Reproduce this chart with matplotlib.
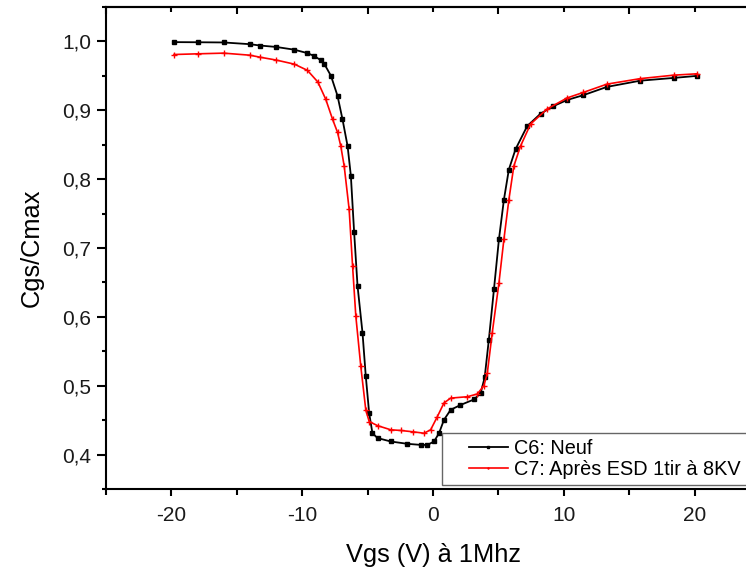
import matplotlib
matplotlib.use("Agg")
import matplotlib.pyplot as plt
from matplotlib.ticker import MultipleLocator, FuncFormatter
from matplotlib.legend_handler import HandlerLine2D

plt.rcParams['font.family'] = ['Liberation Sans', 'DejaVu Sans']
plt.rcParams['axes.unicode_minus'] = False

# C6: Neuf  (Vgs, Cgs/Cmax)
c6_v = [-19.8, -18, -16, -14, -13.2, -12, -10.6, -9.6, -9.1, -8.6, -8.3, -7.8, -7.3,
        -6.92, -6.53, -6.28, -6.03, -5.77, -5.39, -5.14, -4.88, -4.63, -4.24, -3.23,
        -1.95, -0.9, -0.43, 0.08, 0.46, 0.84, 1.35, 2.1, 3.13, 3.64, 3.95, 4.27, 4.66,
        5.04, 5.42, 5.8, 6.31, 7.2, 8.22, 9.2, 10.26, 11.5, 13.3, 15.85, 18.4, 20.2]
c6_c = [0.999, 0.9988, 0.9985, 0.996, 0.994, 0.992, 0.988, 0.983, 0.979, 0.973, 0.967,
        0.950, 0.921, 0.887, 0.848, 0.805, 0.723, 0.645, 0.577, 0.514, 0.460, 0.431,
        0.424, 0.419, 0.4156, 0.414, 0.414, 0.419, 0.431, 0.4505, 0.465, 0.472, 0.480,
        0.489, 0.512, 0.567, 0.640, 0.7125, 0.770, 0.814, 0.8435, 0.877, 0.895, 0.906,
        0.915, 0.922, 0.934, 0.943, 0.947, 0.950]

# C7: Apres ESD 1tir a 8KV
c7_v = [-19.8, -18, -16, -14, -13.2, -12, -10.6, -9.6, -8.8, -8.2, -7.68, -7.3, -7.05,
        -6.79, -6.41, -6.15, -5.9, -5.52, -5.14, -4.88, -4.24, -3.23, -2.47, -1.5,
        -0.69, -0.18, 0.33, 0.84, 1.35, 2.62, 3.39, 3.89, 4.15, 4.53, 5.04, 5.42, 5.8,
        6.18, 6.69, 7.46, 8.73, 10.26, 11.5, 13.3, 15.85, 18.4, 20.2]
c7_c = [0.981, 0.982, 0.983, 0.980, 0.977, 0.973, 0.967, 0.958, 0.941, 0.916, 0.887,
        0.868, 0.848, 0.819, 0.756, 0.674, 0.601, 0.528, 0.465, 0.448, 0.442, 0.436,
        0.435, 0.433, 0.431, 0.436, 0.455, 0.475, 0.482, 0.484, 0.488, 0.500, 0.518,
        0.577, 0.649, 0.7125, 0.770, 0.819, 0.848, 0.880, 0.902, 0.918, 0.926, 0.938,
        0.946, 0.951, 0.953]


class ShiftedLine(HandlerLine2D):
    # draw the legend line a bit further right inside its box
    def adjust_drawing_area(self, legend, orig_handle, xdescent, ydescent, width, height, fontsize):
        xdescent, ydescent, width, height = super().adjust_drawing_area(
            legend, orig_handle, xdescent, ydescent, width, height, fontsize)
        shift = 15
        return xdescent - shift, ydescent, width - shift, height


W, H = 746, 571
fig = plt.figure(figsize=(W / 100, H / 100), dpi=100)
# axes runs past the right edge of the picture, like the original
ax = fig.add_axes([106 / W, 1 - 489 / H, (760 - 106) / W, (489 - 7) / H])
ax_w, ax_h = 760 - 106, 489 - 7

ax.plot(c6_v, c6_c, color='black', lw=1.3, marker='s', ms=2.8, label='C6: Neuf')
ax.plot(c7_v, c7_c, color='#ff0000', lw=1.2, marker='+', ms=4, mew=1,
        label='C7: Après ESD 1tir à 8KV')

ax.set_xlim(-25, 25)
ax.set_ylim(0.35, 1.05)
ax.xaxis.set_major_locator(MultipleLocator(10))
ax.xaxis.set_minor_locator(MultipleLocator(5))
ax.yaxis.set_major_locator(MultipleLocator(0.1))
ax.yaxis.set_minor_locator(MultipleLocator(0.05))
ax.yaxis.set_major_formatter(FuncFormatter(lambda v, p: f"{v:.1f}".replace('.', ',')))

for s in ax.spines.values():
    s.set_linewidth(1.5)
ax.spines['right'].set_visible(False)

ax.tick_params(axis='both', which='both', direction='out', width=1.5,
               labelsize=15, labelcolor='#1a1a1a')
ax.tick_params(axis='y', which='major', length=6.5, pad=4)
ax.tick_params(axis='y', which='minor', length=3)
ax.tick_params(axis='x', which='major', length=5, pad=7)
ax.tick_params(axis='x', which='minor', length=4.3)

# top axis: ticks pointing inwards, no labels
top = ax.secondary_xaxis('top')
top.xaxis.set_major_locator(MultipleLocator(10))
top.xaxis.set_minor_locator(MultipleLocator(5))
top.tick_params(axis='x', which='both', direction='in', width=1.5, labeltop=False)
top.tick_params(axis='x', which='major', length=3.5)
top.tick_params(axis='x', which='minor', length=5)
top.spines['top'].set_linewidth(1.5)

ax.set_xlabel('Vgs (V) à 1Mhz', fontsize=18.3)
ax.set_ylabel('Cgs/Cmax', fontsize=18.3)
ax.xaxis.set_label_coords(0.5, -(543 - 489) / ax_h)
ax.yaxis.set_label_coords(-(106 - 44) / ax_w, 0.5)

leg = ax.legend(loc='lower left', bbox_to_anchor=(442 / W, 1 - 485 / H),
                bbox_transform=fig.transFigure, fontsize=14.3, frameon=True,
                fancybox=False, borderpad=0.3, handlelength=3.0, handletextpad=0.35,
                labelspacing=0.1, borderaxespad=0,
                handler_map={ax.lines[0]: ShiftedLine(), ax.lines[1]: ShiftedLine()})
leg.get_frame().set_edgecolor('#404040')
leg.get_frame().set_linewidth(1.0)
for h in leg.legend_handles:
    h.set_markersize(2)

fig.savefig('out.png', dpi=100)
